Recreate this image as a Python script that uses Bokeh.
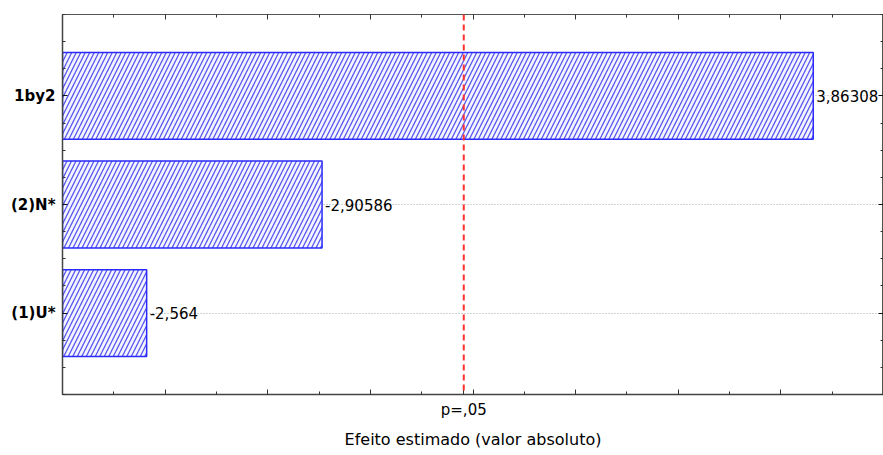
import numpy as np
from bokeh.plotting import figure
from bokeh.models import (Range1d, LinearAxis, FixedTicker, Span, ColumnDataSource,
                          CustomJSTickFormatter)
from bokeh.core.properties import value
from bokeh.embed import file_html
from bokeh.resources import INLINE

# ---- data ----
effect_names = ["1by2", "(2)N*", "(1)U*"]
effect_values = [3.86308, -2.90586, -2.564]
p_critical = 3.182
p_label = "p=,05"
x_title = "Efeito estimado (valor absoluto)"

x_start, x_end = 2.4, 4.0

n = len(effect_names)
ypos = [n - 1 - i for i in range(n)]
abs_vals = [abs(v) for v in effect_values]
val_text = [("%g" % v).replace(".", ",") for v in effect_values]

src = ColumnDataSource(dict(y=ypos, right=abs_vals, txt=val_text, name=effect_names))

p = figure(width=883, height=455, output_backend="svg", toolbar_location=None,
           x_range=Range1d(x_start, x_end), y_range=Range1d(-0.75, n - 0.25),
           min_border_left=62, min_border_right=0, min_border_top=14, min_border_bottom=61,
           background_fill_color="white", border_fill_color="white")

p.outline_line_color = "#555555"
p.outline_line_width = 1

# grid
p.xgrid.visible = False
p.ygrid.ticker = FixedTicker(ticks=ypos)
p.ygrid.grid_line_color = "#a8a8a8"
p.ygrid.grid_line_dash = "1 2"
p.ygrid.grid_line_width = 1

# bars
p.hbar(y="y", left=x_start, right="right", height=0.8, source=src,
       fill_color="#f4f4ff", line_color="#2a2aff", line_width=1.5,
       hatch_pattern="/", hatch_color="#5858f0", hatch_scale=9, hatch_weight=1.3)

# value labels
p.text(x="right", y="y", text="txt", source=src, x_offset=3,
       text_baseline="middle", text_align="left", text_color="black",
       text_font=value("DejaVu Sans"), text_font_size="15px")

# critical line
p.add_layout(Span(location=p_critical, dimension="height", line_color="#ff3030",
                  line_dash="6 4", line_width=2))

# x ticks
x_major = [round(v, 2) for v in np.arange(x_start, x_end + 1e-9, 0.2)]
x_minor = [round(v, 2) for v in np.arange(x_start + 0.1, x_end, 0.2)]
empty_fmt = CustomJSTickFormatter(code="return '';")

xa = p.xaxis[0]
xa.ticker = FixedTicker(ticks=x_major + [p_critical], minor_ticks=x_minor)
xa.formatter = CustomJSTickFormatter(args=dict(pc=p_critical, lab=p_label),
                                     code="return Math.abs(tick - pc) < 1e-9 ? lab : '';")
xa.major_tick_in = 5
xa.major_tick_out = 0
xa.minor_tick_in = 3
xa.minor_tick_out = 0
xa.axis_line_color = "#444444"
xa.axis_line_width = 1.5
xa.major_tick_line_color = "#333333"
xa.minor_tick_line_color = "#333333"
xa.major_label_standoff = 6
xa.major_label_text_font = "DejaVu Sans"
xa.major_label_text_font_size = "15px"
xa.major_label_text_color = "black"
xa.axis_label = x_title
xa.axis_label_standoff = 8
xa.axis_label_text_font = "DejaVu Sans"
xa.axis_label_text_font_size = "16px"
xa.axis_label_text_font_style = "normal"
xa.axis_label_text_color = "black"

xt = LinearAxis(ticker=FixedTicker(ticks=x_major, minor_ticks=x_minor), formatter=empty_fmt,
                major_tick_in=5, major_tick_out=0, minor_tick_in=3, minor_tick_out=0,
                major_label_standoff=0, axis_line_color="#555555",
                major_tick_line_color="#333333", minor_tick_line_color="#333333")
p.add_layout(xt, "above")

# y ticks
y_minor = [v for v in np.arange(-0.75, n - 0.25 + 1e-9, 0.25) if abs(v - round(v)) > 1e-9]
ya = p.yaxis[0]
ya.ticker = FixedTicker(ticks=ypos, minor_ticks=y_minor)
ya.major_label_overrides = {y: nm for y, nm in zip(ypos, effect_names)}
ya.major_tick_in = 5
ya.major_tick_out = 0
ya.minor_tick_in = 3
ya.minor_tick_out = 0
ya.axis_line_color = "#444444"
ya.axis_line_width = 1.5
ya.major_tick_line_color = "#111111"
ya.minor_tick_line_color = "#333333"
ya.major_label_standoff = 7
ya.major_label_text_font = "DejaVu Sans"
ya.major_label_text_font_size = "15px"
ya.major_label_text_font_style = "bold"
ya.major_label_text_color = "black"

yr = LinearAxis(ticker=FixedTicker(ticks=ypos, minor_ticks=y_minor), formatter=empty_fmt,
                major_tick_in=5, major_tick_out=0, minor_tick_in=3, minor_tick_out=0,
                major_label_standoff=0, axis_line_color="#444444", axis_line_width=1.5,
                major_tick_line_color="#111111", minor_tick_line_color="#333333")
p.add_layout(yr, "right")

open("out.html", "w").write(file_html(p, INLINE))
